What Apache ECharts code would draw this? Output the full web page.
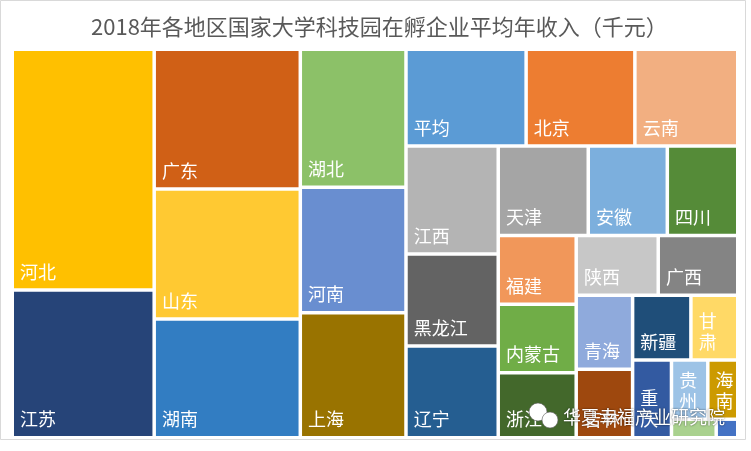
<!DOCTYPE html>
<html>
<head>
<meta charset="utf-8">
<script src="https://cdn.jsdelivr.net/npm/echarts@6/dist/echarts.min.js"></script>
<style>
html,body{margin:0;padding:0;background:#fff;}
#chart{width:751px;height:451px;}
</style>
</head>
<body>
<div id="chart"></div>
<script>
// Regions (categories) and values (thousand yuan)
const regions = ['河北','江苏','广东','山东','湖南','湖北','河南','上海','平均','北京','云南','江西','黑龙江','辽宁','天津','安徽','四川','福建','内蒙古','浙江','陕西','广西','青海','吉林','新疆','甘肃','重庆','贵州','海南','宁夏','山西'];
const incomes = [3417,2097,2042,1899,1735,1459,1326,1321,1163,1053,996,995,848,847,804,706,629,537,534,507,492,477,417,386,377,303,302,215,177,83,40];
const titleText = '2018年各地区国家大学科技园在孵企业平均年收入（千元）';
const watermarkText = '华夏幸福产业研究院';

// Styles
const palette = {
  '河北':'#FFC000','江苏':'#264478','广东':'#D06016','山东':'#FFC932','湖南':'#327DC2','湖北':'#8CC168',
  '河南':'#698ED0','上海':'#997300','平均':'#5B9BD5','北京':'#ED7D31','云南':'#F2AF81','江西':'#B4B4B4',
  '黑龙江':'#636363','辽宁':'#255E91','天津':'#A5A5A5','安徽':'#7CAFDD','四川':'#558B38','福建':'#F1975A',
  '内蒙古':'#70AD47','浙江':'#43682B','陕西':'#C7C7C7','广西':'#848484','青海':'#8FAADC','吉林':'#9E480E',
  '新疆':'#1F4E79','甘肃':'#FFD966','重庆':'#335AA1','贵州':'#9DC3E6','海南':'#CC9A00','宁夏':'#A9D18E','山西':'#4472C4'
};
const FONT = '"Noto Sans CJK SC", "Noto Sans", sans-serif';

const data = regions.map((n, i) => ({
  name: n,
  value: incomes[i],
  itemStyle: { color: palette[n] }
}));

const chart = echarts.init(document.getElementById('chart'), null, {renderer: 'canvas'});
chart.setOption({
  backgroundColor: '#fff',
  animation: false,
  title: {
    text: titleText,
    left: 86,
    top: 11,
    textStyle: { fontSize: 22, fontWeight: 'normal', color: '#595959', fontFamily: FONT }
  },
  graphic: [
    { type: 'rect', shape: { x: 0.5, y: 0.5, width: 745, height: 439 }, style: { fill: 'none', stroke: '#D9D9D9', lineWidth: 1 }, z: 100 },
    { type: 'circle', shape: { cx: 538, cy: 412, r: 9 }, style: { fill: '#fff', stroke: 'rgba(90,90,90,0.6)', lineWidth: 1 }, z: 100 },
    { type: 'circle', shape: { cx: 550, cy: 420, r: 8 }, style: { fill: '#fff', stroke: 'rgba(90,90,90,0.6)', lineWidth: 1 }, z: 101 },
    { type: 'text', x: 563, y: 417, z: 102,
      style: { text: watermarkText, fontSize: 18, fontFamily: FONT, fill: '#fff', textVerticalAlign: 'middle',
               textShadowColor: 'rgba(0,0,0,0.7)', textShadowBlur: 2 } }
  ],
  series: [{
    type: 'treemap',
    left: 14, top: 51, width: 722, height: 385,
    squareRatio: 1,
    roam: false,
    nodeClick: false,
    breadcrumb: { show: false },
    visibleMin: 0,
    itemStyle: { borderWidth: 0, gapWidth: 3.5, borderColor: '#fff' },
    label: {
      show: true,
      position: 'insideBottomLeft',
      formatter: '{b}',
      color: '#fff',
      fontSize: 18,
      fontFamily: FONT,
      padding: [0, 8, 0, 0],
      distance: 6,
      lineHeight: 21,
      overflow: 'breakAll'
    },
    emphasis: { disabled: true },
    data: data
  }]
});
</script>
</body>
</html>
